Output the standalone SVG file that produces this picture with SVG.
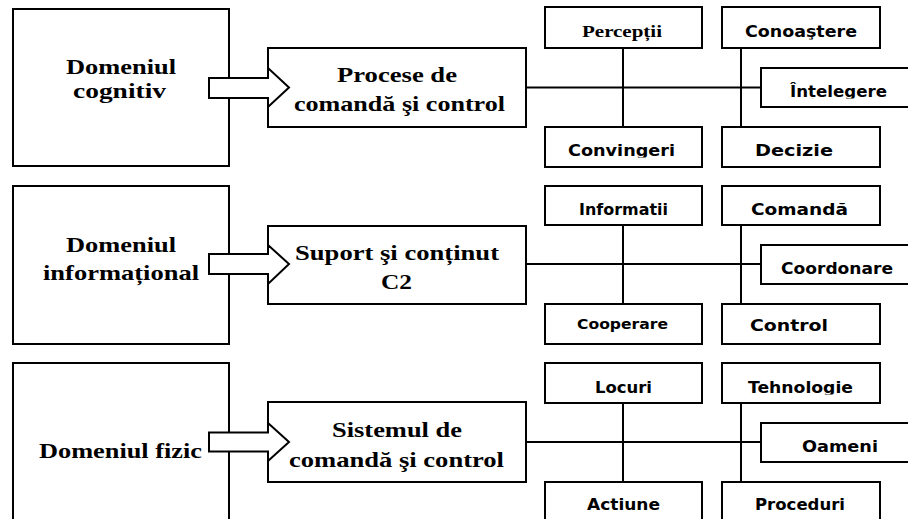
<svg xmlns="http://www.w3.org/2000/svg" width="908" height="519" viewBox="0 0 908 519">
  <style>
    .box { fill: #fff; stroke: #000; stroke-width: 2; }
    .arrow { fill: #fff; stroke: #000; stroke-width: 2; stroke-linejoin: miter; }
    .link { fill: none; stroke: #000; stroke-width: 2; }
    .serif { font-family: "Liberation Serif", "Times New Roman", serif; font-weight: bold; font-size: 22px; fill: #000; }
    .domain { font-family: "Liberation Serif", "Times New Roman", serif; font-weight: bold; font-size: 21px; fill: #000; }
    .small-serif { font-family: "Liberation Serif", "Times New Roman", serif; font-weight: bold; font-size: 16px; fill: #000; }
    .sans { font-family: "DejaVu Sans", "Liberation Sans", sans-serif; font-weight: bold; font-size: 16px; fill: #000; }
    .sans-sm { font-family: "DejaVu Sans", "Liberation Sans", sans-serif; font-weight: bold; font-size: 14px; fill: #000; }
  </style>
  <defs>
    <!-- text areas that cut off descenders -->
    <clipPath id="clip-conoastere"><rect x="722" y="7" width="158" height="32.5"/></clipPath>
    <clipPath id="clip-intelegere"><rect x="761" y="68" width="157" height="30.5"/></clipPath>
    <clipPath id="clip-convingeri"><rect x="545" y="127" width="157" height="30.5"/></clipPath>
    <clipPath id="clip-tehnologie"><rect x="722" y="363" width="158" height="31.5"/></clipPath>
  </defs>

  <!-- connectors: horizontal spines and vertical links -->
  <g id="connectors">
    <line class="link" x1="526" y1="87.5" x2="761" y2="87.5"/>
    <line class="link" x1="623" y1="48" x2="623" y2="127"/>
    <line class="link" x1="741" y1="48" x2="741" y2="127"/>

    <line class="link" x1="526" y1="264" x2="761" y2="264"/>
    <line class="link" x1="623" y1="225" x2="623" y2="304"/>
    <line class="link" x1="741" y1="225" x2="741" y2="304"/>

    <line class="link" x1="526" y1="442" x2="761" y2="442"/>
    <line class="link" x1="623" y1="403" x2="623" y2="482"/>
    <line class="link" x1="741" y1="403" x2="741" y2="482"/>
  </g>

  <!-- row 1 -->
  <g id="domeniul-cognitiv">
    <rect class="box" x="13" y="9" width="216" height="157"/>
    <text class="domain" x="66" y="74" textLength="110" lengthAdjust="spacingAndGlyphs">Domeniul</text>
    <text class="domain" x="73" y="98" textLength="93" lengthAdjust="spacingAndGlyphs">cognitiv</text>
  </g>
  <g id="procese">
    <rect class="box" x="268" y="48" width="258" height="79"/>
    <text class="serif" x="337" y="82" textLength="120" lengthAdjust="spacingAndGlyphs">Procese de</text>
    <text class="serif" x="294" y="111" textLength="211" lengthAdjust="spacingAndGlyphs">comandă şi control</text>
  </g>
  <g id="arrow-1">
    <polygon class="arrow" points="209,78 268,78 268,68 289,87.5 268,107 268,98 209,98"/>
  </g>
  <g id="perceptii">
    <rect class="box" x="545" y="7" width="157" height="41"/>
    <text class="small-serif" x="582" y="37" textLength="80" lengthAdjust="spacingAndGlyphs">Percepții</text>
  </g>
  <g id="conoastere">
    <rect class="box" x="722" y="7" width="158" height="41"/>
    <text class="sans" x="745" y="37" textLength="112" lengthAdjust="spacingAndGlyphs" clip-path="url(#clip-conoastere)">Conoaştere</text>
  </g>
  <g id="intelegere">
    <rect class="box" x="761" y="68" width="157" height="39"/>
    <text class="sans" x="790" y="97" textLength="97" lengthAdjust="spacingAndGlyphs" clip-path="url(#clip-intelegere)">Înțelegere</text>
  </g>
  <g id="convingeri">
    <rect class="box" x="545" y="127" width="157" height="40"/>
    <text class="sans" x="568" y="156" textLength="107" lengthAdjust="spacingAndGlyphs" clip-path="url(#clip-convingeri)">Convingeri</text>
  </g>
  <g id="decizie">
    <rect class="box" x="722" y="127" width="158" height="40"/>
    <text class="sans" x="755" y="156" textLength="78" lengthAdjust="spacingAndGlyphs">Decizie</text>
  </g>

  <!-- row 2 -->
  <g id="domeniul-informational">
    <rect class="box" x="13" y="186" width="216" height="158"/>
    <text class="domain" x="66" y="252" textLength="110" lengthAdjust="spacingAndGlyphs">Domeniul</text>
    <text class="domain" x="43" y="280" textLength="156" lengthAdjust="spacingAndGlyphs">informațional</text>
  </g>
  <g id="suport">
    <rect class="box" x="268" y="226" width="258" height="78"/>
    <text class="serif" x="295" y="260" textLength="204" lengthAdjust="spacingAndGlyphs">Suport şi conținut</text>
    <text class="serif" x="381" y="289" textLength="31" lengthAdjust="spacingAndGlyphs">C2</text>
  </g>
  <g id="arrow-2">
    <polygon class="arrow" points="209,254 268,254 268,245 289,264 268,284 268,274 209,274"/>
  </g>
  <g id="informatii">
    <rect class="box" x="545" y="186" width="157" height="39"/>
    <text class="sans" x="579" y="215" textLength="89" lengthAdjust="spacingAndGlyphs">Informatii</text>
  </g>
  <g id="comanda">
    <rect class="box" x="722" y="186" width="158" height="39"/>
    <text class="sans" x="751" y="215" textLength="97" lengthAdjust="spacingAndGlyphs">Comandă</text>
  </g>
  <g id="coordonare">
    <rect class="box" x="761" y="245" width="157" height="39"/>
    <text class="sans" x="781" y="274" textLength="112" lengthAdjust="spacingAndGlyphs">Coordonare</text>
  </g>
  <g id="cooperare">
    <rect class="box" x="545" y="304" width="157" height="40"/>
    <text class="sans-sm" x="577" y="329" textLength="91" lengthAdjust="spacingAndGlyphs">Cooperare</text>
  </g>
  <g id="control">
    <rect class="box" x="722" y="304" width="158" height="40"/>
    <text class="sans" x="750" y="331" textLength="78" lengthAdjust="spacingAndGlyphs">Control</text>
  </g>

  <!-- row 3 -->
  <g id="domeniul-fizic">
    <rect class="box" x="13" y="363" width="216" height="158"/>
    <text class="domain" x="39" y="458" textLength="163" lengthAdjust="spacingAndGlyphs">Domeniul fizic</text>
  </g>
  <g id="sistemul">
    <rect class="box" x="268" y="402" width="258" height="80"/>
    <text class="serif" x="332" y="437" textLength="130" lengthAdjust="spacingAndGlyphs">Sistemul de</text>
    <text class="serif" x="289" y="467" textLength="215" lengthAdjust="spacingAndGlyphs">comandă şi control</text>
  </g>
  <g id="arrow-3">
    <polygon class="arrow" points="209,432.5 268,432.5 268,423 289,442 268,461 268,451.5 209,451.5"/>
  </g>
  <g id="locuri">
    <rect class="box" x="545" y="363" width="157" height="40"/>
    <text class="sans" x="595" y="393" textLength="57" lengthAdjust="spacingAndGlyphs">Locuri</text>
  </g>
  <g id="tehnologie">
    <rect class="box" x="722" y="363" width="158" height="40"/>
    <text class="sans" x="748" y="393" textLength="105" lengthAdjust="spacingAndGlyphs" clip-path="url(#clip-tehnologie)">Tehnologie</text>
  </g>
  <g id="oameni">
    <rect class="box" x="761" y="423" width="157" height="39"/>
    <text class="sans" x="802" y="452" textLength="76" lengthAdjust="spacingAndGlyphs">Oameni</text>
  </g>
  <g id="actiune">
    <rect class="box" x="545" y="482" width="157" height="40"/>
    <text class="sans" x="587" y="510" textLength="73" lengthAdjust="spacingAndGlyphs">Actiune</text>
  </g>
  <g id="proceduri">
    <rect class="box" x="722" y="482" width="158" height="40"/>
    <text class="sans" x="755" y="510" textLength="90" lengthAdjust="spacingAndGlyphs">Proceduri</text>
  </g>
</svg>
